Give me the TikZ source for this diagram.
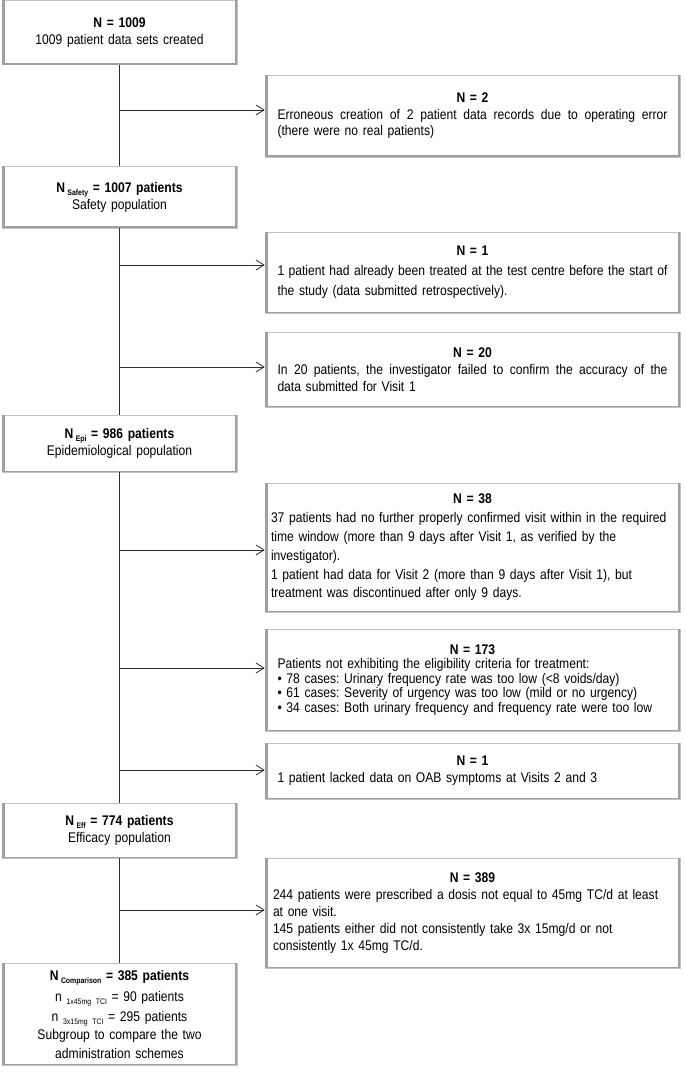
\documentclass[tikz,border=0pt]{standalone}
\usepackage{fontspec}
\setmainfont{Liberation Sans}[FakeStretch=0.865]
\usetikzlibrary{arrows.meta}
\definecolor{thinborder}{RGB}{195,195,195}
\definecolor{sideborder}{RGB}{160,160,160}
\definecolor{conncol}{RGB}{45,45,45}
\newcommand\fsz[1]{\fontsize{14}{#1}\selectfont}
\newcommand\lsub[1]{\raisebox{-0.45ex}{\fontsize{8}{8}\selectfont #1}}
\newcommand\tline[1]{\hbox to\hsize{\hfil\bfseries #1\hfil}}
\newcommand\jline[1]{\hbox to\hsize{\spaceskip=\fontdimen2\font plus 1fil minus 0.3\fontdimen2\font\relax #1}}
\newcommand\rline[1]{\hbox to\hsize{#1\hfil}}
\newcommand\boxsides[1]{%
  \draw[sideline, line width=3.5pt] ([xshift=1.75pt]#1.north west) -- ([xshift=1.75pt]#1.south west);
  \draw[sideline, line width=2.5pt] ([xshift=-1.25pt]#1.north east) -- ([xshift=-1.25pt]#1.south east);
  \draw[sideline, line width=1.8pt] ([yshift=0.9pt]#1.south west) -- ([yshift=0.9pt]#1.south east);}
\setlength\parindent{0pt}
\frenchspacing
\begin{document}
\begin{tikzpicture}[x=1pt,y=-1pt,
  lbox/.style={draw=thinborder, line width=0.6pt, text width=225pt, inner xsep=5pt, inner ysep=0pt, align=center, font=\fsz{17}},
  rbox/.style={draw=thinborder, line width=0.6pt, text width=390pt, inner xsep=12.5pt, inner ysep=0pt, font=\fsz{17}},
  sideline/.style={draw=sideborder},
  conn/.style={draw=conncol, line width=0.8pt},
  arr/.style={conn, -{Straight Barb[length=8pt,width=10pt]}}]
\useasboundingbox (0,0) rectangle (685,1075);

% left column
\node[lbox, minimum height=64pt] (b1) at (119.5,32.5) {\textbf{N = 1009}\\1009 patient data sets created};
\node[lbox, minimum height=62pt] (b2) at (119.5,197) {\textbf{N\,\lsub{Safety} = 1007 patients}\\Safety population};
\node[lbox, minimum height=57pt] (b3) at (119.5,443.5) {\textbf{N\,\lsub{Epi} = 986 patients}\\Epidemiological population};
\node[lbox, minimum height=55pt] (b4) at (119.5,830.5) {\textbf{N\,\lsub{Eff} = 774 patients}\\Efficacy population};
\node[lbox, font=\fsz{19}, minimum height=102pt] (b5) at (119.5,1014) {\textbf{N\,\lsub{Comparison} = 385 patients}\\[2pt]n \lsub{1x45mg TCI} = 90 patients\\[1pt]n \lsub{3x15mg TCI} = 295 patients\\[-1pt]Subgroup to compare the two\\administration schemes};

% right column
\node[rbox, font=\fsz{16.5}, minimum height=82pt] (r1) at (472.5,116) {\vbox{\tline{N = 2}%
  \jline{Erroneous creation of 2 patient data records due to operating error}%
  \rline{(there were no real patients)}}};
\node[rbox, font=\fsz{20}, minimum height=81pt] (r2) at (472.5,272.5) {\vbox{\tline{N = 1}%
  \jline{1 patient had already been treated at the test centre before the start of}%
  \rline{the study (data submitted retrospectively).}}};
\node[rbox, font=\fsz{17}, minimum height=75pt] (r3) at (472.5,369.5) {\vbox{\tline{N = 20}%
  \jline{In 20 patients, the investigator failed to confirm the accuracy of the}%
  \rline{data submitted for Visit 1}}};
\node[rbox, text width=403pt, inner xsep=6pt, font=\fsz{18.8}, minimum height=129pt] (r4) at (472.5,547.5) {\vbox{\tline{N = 38}%
  \rline{37 patients had no further properly confirmed visit within in the required}%
  \rline{time window (more than 9 days after Visit 1, as verified by the}%
  \rline{investigator).}%
  \rline{1 patient had data for Visit 2 (more than 9 days after Visit 1), but}%
  \rline{treatment was discontinued after only 9 days.}}};
\node[rbox, font=\fsz{14.5}, minimum height=102pt] (r5) at (472.5,680) {\vbox{\tline{N = 173}%
  \rline{Patients not exhibiting the eligibility criteria for treatment:}%
  \rline{• 78 cases: Urinary frequency rate was too low (<8 voids/day)}%
  \rline{• 61 cases: Severity of urgency was too low (mild or no urgency)}%
  \rline{• 34 cases: Both urinary frequency and frequency rate were too low}}};
\node[rbox, font=\fsz{17}, minimum height=56pt] (r6) at (472.5,771) {\vbox{\tline{N = 1}%
  \rline{1 patient lacked data on OAB symptoms at Visits 2 and 3}}};
\node[rbox, text width=399pt, inner xsep=8pt, font=\fsz{17}, minimum height=110pt] (r7) at (472.5,913) {\vbox{\tline{N = 389}%
  \rline{244 patients were prescribed a dosis not equal to 45mg TC/d at least}%
  \rline{at one visit.}%
  \rline{145 patients either did not consistently take 3x 15mg/d or not}%
  \rline{consistently 1x 45mg TC/d.}}};

\foreach \b in {b1,b2,b3,b4,b5,r1,r2,r3,r4,r5,r6,r7} {\boxsides{\b}}

% main flow
\draw[conn] (b1.south) -- (b2.north);
\draw[conn] (b2.south) -- (b3.north);
\draw[conn] (b3.south) -- (b4.north);
\draw[conn] (b4.south) -- (b5.north);

% exclusions
\coordinate (j1) at (119.5,110);
\coordinate (j2) at (119.5,265);
\coordinate (j3) at (119.5,367);
\coordinate (j4) at (119.5,550);
\coordinate (j5) at (119.5,668);
\coordinate (j6) at (119.5,770);
\coordinate (j7) at (119.5,910);
\draw[arr] (j1) -- (j1 -| r1.west);
\draw[arr] (j2) -- (j2 -| r2.west);
\draw[arr] (j3) -- (j3 -| r3.west);
\draw[arr] (j4) -- (j4 -| r4.west);
\draw[arr] (j5) -- (j5 -| r5.west);
\draw[arr] (j6) -- (j6 -| r6.west);
\draw[arr] (j7) -- (j7 -| r7.west);
\end{tikzpicture}
\end{document}
